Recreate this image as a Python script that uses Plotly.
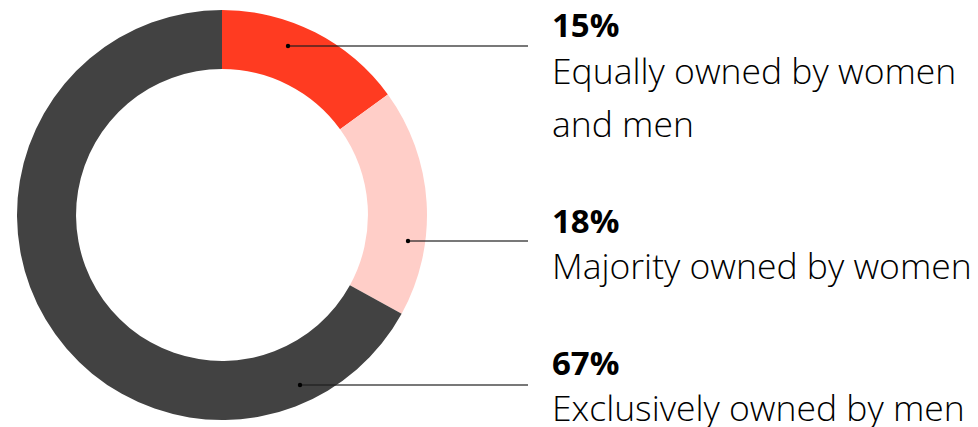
import plotly.graph_objects as go

W, H = 978, 427

# Data
categories = ["Equally owned by women and men", "Majority owned by women", "Exclusively owned by men"]
shares = [15, 18, 67]
pct_labels = ["15%", "18%", "67%"]
label_lines = [["Equally owned by women", "and men"], ["Majority owned by women"], ["Exclusively owned by men"]]
colors = ["#FF3B21", "#FFCEC8", "#424242"]

# layout helpers (window pixel -> paper)
def px(x):
    return x / W

def py(y):
    return 1 - y / H

FONT = "Open Sans"

fig = go.Figure()
fig.add_trace(go.Pie(
    labels=categories,
    values=shares,
    sort=False,
    direction="clockwise",
    rotation=0,
    hole=0.712,
    marker=dict(colors=colors, line=dict(width=0)),
    textinfo="none",
    hoverinfo="label+percent",
    showlegend=False,
    domain=dict(x=[px(17), px(427)], y=[py(420), py(10)]),
))

# leader line anchors (pixel) and text block positions
dot_pos = [(288, 46), (408, 241), (300, 385)]
line_end_x = 528
text_x = 553
num_y = [25, 220, 362]
line_gap = 45
extra_gap = 53

shapes = []
annotations = []
for i in range(3):
    dx, dy = dot_pos[i]
    shapes.append(dict(type="line", xref="paper", yref="paper",
                       x0=px(dx), y0=py(dy), x1=px(line_end_x), y1=py(dy),
                       line=dict(color="rgba(30,30,30,0.8)", width=1.5)))
    shapes.append(dict(type="circle", xref="paper", yref="paper",
                       x0=px(dx - 2.2), y0=py(dy - 2.2), x1=px(dx + 2.2), y1=py(dy + 2.2),
                       fillcolor="#000", line=dict(width=0)))
    annotations.append(dict(xref="paper", yref="paper", x=px(text_x - 3), y=py(num_y[i]),
                            xanchor="left", yanchor="middle", showarrow=False,
                            text="<b>" + pct_labels[i] + "</b>",
                            font=dict(family=FONT, size=33, color="#000")))
    for j, ln in enumerate(label_lines[i]):
        yy = num_y[i] + line_gap + j * extra_gap
        annotations.append(dict(xref="paper", yref="paper", x=px(text_x - 3), y=py(yy),
                                xanchor="left", yanchor="middle", showarrow=False,
                                text=ln, font=dict(family=FONT, size=35.5, color="#000", weight=300)))

fig.update_layout(
    width=W, height=H,
    margin=dict(l=0, r=0, t=0, b=0),
    paper_bgcolor="white", plot_bgcolor="white",
    shapes=shapes, annotations=annotations,
)

fig.write_html("out.html", config={"displayModeBar": False},
               post_script="document.body.style.margin='0';")
